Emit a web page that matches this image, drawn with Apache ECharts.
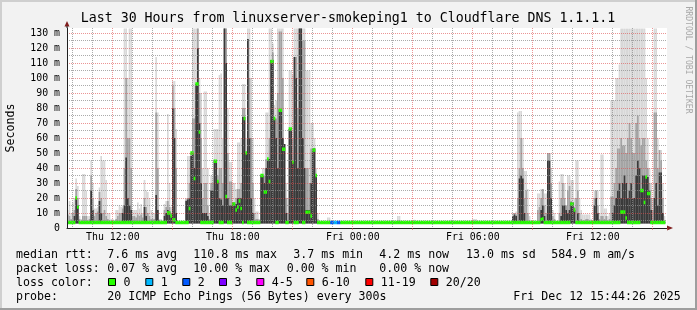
<!DOCTYPE html>
<html><head><meta charset="utf-8">
<script src="https://cdn.jsdelivr.net/npm/echarts@6/dist/echarts.min.js"></script>
<style>html,body{margin:0;padding:0;background:#f2f2f2}#c{width:697px;height:310px}</style>
</head><body><div id="c"></div>
<script>
// ---- time axis: 360 steps of 5 minutes, Thu 09:45 -> Fri 15:45
const days = ['Thu', 'Fri'];
const startMinute = 9 * 60 + 45;
const stepMinutes = 5;
const stepCount = 360;
const tickLabels = ['Thu 12:00', 'Thu 18:00', 'Fri 00:00', 'Fri 06:00', 'Fri 12:00'];
const yTickLabels = ['0', '10 m', '20 m', '30 m', '40 m', '50 m', '60 m', '70 m', '80 m', '90 m', '100 m', '110 m', '120 m', '130 m'];
const pingFloor = 3; // fastest ping (ms): the smoke starts here

// ---- smoke: highest ping (light), upper band (mid), inner band (dark), in ms
const smokeTop = [
12,18,10,17,20,33,28,8,6,36,36,25,8,8,45,30,13,13,14,27,
48,45,45,32,10,10,6,6,5,12,12,15,14,15,133,133,100,133,133,12,
12,12,17,13,16,10,32,25,24,20,12,10,10,114,77,6,6,5,16,18,
76,30,14,98,98,66,4,4,4,4,4,20,48,48,50,133,133,133,133,100,
90,40,91,91,40,10,35,35,66,66,66,102,103,60,133,133,80,44,44,30,
30,26,57,57,60,96,96,60,133,133,100,60,20,11,11,6,35,40,40,77,
77,133,133,123,82,85,133,133,133,133,56,30,20,105,105,102,133,133,133,133,
133,133,133,105,105,105,70,70,60,40,10,4,4,4,4,4,7,7,4,4,
4,4,4,4,4,4,4,4,4,4,4,4,4,4,4,4,4,4,4,4,
4,4,4,4,4,4,4,4,4,4,4,4,4,4,4,4,4,4,8,8,
4,4,4,4,4,4,4,4,5.5,4,4,4,4,4,4,4,4,4,4,4,
4,4,4,4,4,4,4,4,4,4,5.5,4,4,4,4,4,4,4,4,4,
4,4,4,6,6,6,4,4,4,4,4,4,4,4,4,4,4,4,4,4,
4,4,4,4,4,4,4,10,10,11,77,78,78,60,38,38,26,8,4,4,
4,4,23,23,26,26,23,23,50,50,40,12,10,4,4,31,36,36,30,15,
35,35,32,32,20,45,45,20,12,9,9,9,9,9,6,5,25,25,25,10,
49,49,13,13,8,10,85,85,85,100,100,109,133,133,133,133,133,133,133,133,
133,133,133,133,133,133,133,100,60,40,30,20,133,133,60,52,52,30,8,null
];
const smokeMid = [
9,8,6,10,12,26,20,6,4,8,8,8,5,6,35,20,8,10,11,24,
20,10,12,8,6,5,4,4,4,6,8,10,10,13,40,100,60,60,40,8,
8,7,9,8,9,7,20,14,10,8,6,6,6,77,40,5,4,4,12,14,
18,14,10,95,80,40,4,4,4,4,4,19,20,30,50,73,73,96,133,90,
60,20,30,30,15,6,30,30,45,45,35,40,40,30,133,133,50,31,31,17,
17,20,26,26,30,80,80,50,126,100,60,30,10,6,6,4,35,35,35,46,
46,60,112,117,73,73,90,131,131,100,56,20,10,66,66,60,114,114,80,133,
133,125,125,40,40,30,53,53,53,35,6,4,4,4,4,4,4,4,4,4,
4,4,4,4,4,4,4,4,4,4,4,4,4,4,4,4,4,4,4,4,
4,4,4,4,4,4,4,4,4,4,4,4,4,4,4,4,4,4,5,5,
4,4,4,4,4,4,4,4,4,4,4,4,4,4,4,4,4,4,4,4,
4,4,4,4,4,4,4,4,4,4,4,4,4,4,4,4,4,4,4,4,
4,4,4,4,4,4,4,4,4,4,4,4,4,4,4,4,4,4,4,4,
4,4,4,4,4,4,4,8,10,9,20,40,60,40,20,25,10,5,4,4,
4,4,12,14,20,26,15,10,50,50,30,8,6,4,4,10,20,30,20,15,
25,28,18,17,14,20,25,10,6,5,5,6,6,5,5,4,20,25,15,6,
8,8,6,8,5,6,21,21,30,40,53,53,60,55,55,50,60,70,60,50,
50,70,75,60,55,60,60,45,40,30,20,12,77,77,40,52,45,20,5,null
];
const smokeDark = [
4,4,4,4,8,20,15,4,4,4,4,4,4,4,25,12,4,4,4,18,
10,4,4,4,4,4,4,4,4,4,4,4,4,10,15,47,20,15,12,4,
4,4,4,4,4,4,14,8,4,4,4,4,4,22,12,4,4,4,8,10,
12,11,8,80,60,10,4,4,4,4,4,18,19,20,48,50,40,96,120,70,
30,10,10,10,8,4,25,25,45,45,31,20,19,15,133,110,20,15,15,17,
16,16,20,20,20,74,74,50,126,60,20,10,4,4,4,4,35,35,30,40,
46,46,112,112,73,60,40,79,79,60,56,10,4,66,66,44,114,100,40,133,
133,60,40,12,12,12,30,53,53,35,4,4,4,4,4,4,4,4,4,4,
4,4,4,4,4,4,4,4,4,4,4,4,4,4,4,4,4,4,4,4,
4,4,4,4,4,4,4,4,4,4,4,4,4,4,4,4,4,4,4,4,
4,4,4,4,4,4,4,4,4,4,4,4,4,4,4,4,4,4,4,4,
4,4,4,4,4,4,4,4,4,4,4,4,4,4,4,4,4,4,4,4,
4,4,4,4,4,4,4,4,4,4,4,4,4,4,4,4,4,4,4,4,
4,4,4,4,4,4,4,8,9,8,4,33,35,33,10,4,4,4,4,4,
4,4,4,4,12,15,8,4,45,45,20,4,4,4,4,4,8,15,15,12,
10,12,17,17,12,4,10,4,4,4,4,4,4,4,4,4,15,20,10,4,
4,4,4,4,4,4,4,10,15,20,25,30,20,30,35,30,20,25,30,20,
20,35,45,40,25,35,35,34,34,25,12,4,20,30,15,37,37,10,4,null
];
// ---- median rtt (ms)
const medianRtt = [
3.7,3.7,3.7,3.7,3.7,20,14,3.7,3.7,3.7,3.7,3.7,3.7,3.7,3.7,3.7,3.7,3.7,3.7,3.7,
3.7,3.7,3.7,3.7,3.7,3.7,3.7,3.7,3.7,3.7,3.7,3.7,3.7,3.7,3.7,3.7,3.7,3.7,3.7,3.7,
3.7,3.7,3.7,3.7,3.7,3.7,3.7,3.7,3.7,3.7,3.7,3.7,3.7,3.7,3.7,3.7,3.7,3.7,3.7,3.7,
10,10,8,5.5,5.5,3.7,3.7,3.7,3.7,3.7,3.7,3.7,3.7,13,50,50,33,96,96,64,
3.7,3.7,3.7,3.7,3.7,3.7,3.7,3.7,44.5,44.5,31,3.7,3.7,3.7,140,21,3.7,3.7,3.7,16,
16,12,14,18,13,3.7,73,50,3.7,3.7,3.7,3.7,3.7,3.7,3.7,3.7,35,35,24,24,
46,31,111,111,73,3.7,3.7,78.5,78.5,52.5,52.5,3.7,3.7,66,66,44,3.7,3.7,3.7,140,
140,3.7,3.7,10.5,10.5,10.5,8,52,52,35,3.7,3.7,3.7,3.7,3.7,3.7,3.7,3.7,3.7,3.7,
3.7,3.7,3.7,3.7,3.7,3.7,3.7,3.7,3.7,3.7,3.7,3.7,3.7,3.7,3.7,3.7,3.7,3.7,3.7,3.7,
3.7,3.7,3.7,3.7,3.7,3.7,3.7,3.7,3.7,3.7,3.7,3.7,3.7,3.7,3.7,3.7,3.7,3.7,3.7,3.7,
3.7,3.7,3.7,3.7,3.7,3.7,3.7,3.7,3.7,3.7,3.7,3.7,3.7,3.7,3.7,3.7,3.7,3.7,3.7,3.7,
3.7,3.7,3.7,3.7,3.7,3.7,3.7,3.7,3.7,3.7,3.7,3.7,3.7,3.7,3.7,3.7,3.7,3.7,3.7,3.7,
3.7,3.7,3.7,3.7,3.7,3.7,3.7,3.7,3.7,3.7,3.7,3.7,3.7,3.7,3.7,3.7,3.7,3.7,3.7,3.7,
3.7,3.7,3.7,3.7,3.7,3.7,3.7,3.7,3.7,3.7,3.7,3.7,3.7,3.7,3.7,3.7,3.7,3.7,3.7,3.7,
3.7,3.7,3.7,3.7,5.7,6,3.7,3.7,3.7,3.7,3.7,3.7,3.7,3.7,3.7,3.7,3.7,3.7,3.7,3.7,
3.7,3.7,16,16,12,3.7,3.7,3.7,3.7,3.7,3.7,3.7,3.7,3.7,3.7,3.7,3.7,3.7,3.7,3.7,
3.7,3.7,3.7,3.7,3.7,3.7,3.7,3.7,3.7,3.7,3.7,3.7,10.6,10.6,10.6,6.7,3.7,3.7,3.7,3.7,
3.7,3.7,3.7,3.7,25,25,17,34,23,23,3.7,3.7,3.7,3.7,3.7,3.7,3.7,3.7,3.7,null
];
// ---- lost pings out of 20 per step
const lostPings = [
0,0,0,0,0,0,0,0,0,0,0,0,0,0,0,0,0,0,0,0,
0,0,0,0,0,0,0,0,0,0,0,0,0,0,0,0,0,0,0,0,
0,0,0,0,0,0,0,0,0,0,0,0,0,0,0,0,0,0,0,0,
0,0,0,0,0,0,0,0,0,0,0,0,0,0,0,0,0,0,0,0,
0,0,0,0,0,0,0,0,0,0,0,0,0,0,0,0,0,0,0,0,
0,0,0,0,0,0,0,0,0,0,0,0,0,0,0,0,0,0,0,0,
0,0,0,0,0,0,0,0,0,0,0,0,0,0,0,0,0,0,0,0,
0,0,0,0,0,0,0,0,0,0,0,0,0,0,0,0,0,0,2,2,
1,1,2,2,0,0,0,0,0,0,0,0,0,0,0,0,0,0,0,0,
0,0,0,0,0,0,0,0,0,0,0,0,0,0,0,0,0,0,0,0,
0,0,0,0,0,0,0,0,0,0,0,0,0,0,0,0,0,0,0,0,
0,0,0,0,0,0,0,0,0,0,0,0,0,0,0,0,0,0,0,0,
0,0,0,0,0,0,0,0,0,0,0,0,0,0,0,0,0,0,0,0,
0,0,0,0,0,0,0,0,0,0,0,0,0,0,0,0,0,0,0,0,
0,0,0,0,0,0,0,0,0,0,0,0,0,0,0,0,0,0,0,0,
0,0,0,0,0,0,0,0,0,0,0,0,0,0,0,0,0,0,0,0,
0,0,0,0,0,0,0,0,0,0,0,0,0,0,0,0,0,0,0,0,
0,0,0,0,0,0,0,0,0,0,0,0,0,0,0,0,0,0,0,0
];

const lossColors = ['#26ff00', '#00b8ff', '#0059ff', '#7e00ff', '#ff00ff', '#ff5500', '#ff0000', '#a10000'];
const lossLabels = ['0', '1', '2', '3', '4-5', '6-10', '11-19', '20/20'];
const titleText = 'Last 30 Hours from linuxserver-smokeping1 to Cloudflare DNS 1.1.1.1';
const rttStats = ['median rtt:', '7.6 ms avg', '110.8 ms max', '3.7 ms min', '4.2 ms now', '13.0 ms sd', '584.9 m am/s'];
const lossStats = ['packet loss:', '0.07 % avg', '10.00 % max', '0.00 % min', '0.00 % now'];
const probeText = ['probe:', '20 ICMP Echo Pings (56 Bytes) every 300s', 'Fri Dec 12 15:44:26 2025'];

// ---- build
const categories = [];
for (let i = 0; i < stepCount; i++) {
  const m = startMinute + i * stepMinutes;
  const mm = m % 1440;
  categories.push(days[Math.floor(m / 1440)] + ' ' + String(Math.floor(mm / 60)).padStart(2, '0') + ':' + String(mm % 60).padStart(2, '0'));
}
function lossColor(n) {
  if (n <= 3) return lossColors[n];
  if (n <= 5) return lossColors[4];
  if (n <= 10) return lossColors[5];
  if (n <= 19) return lossColors[6];
  return lossColors[7];
}
const medHalf = 1.2;
const medBase = medianRtt.map(v => v == null ? null : v - medHalf);
const medBand = medianRtt.map((v, i) => v == null ? null : { value: 2 * medHalf, itemStyle: { color: lossColor(lostPings[i]) } });

const mono = '"DejaVu Sans Mono", monospace';
const GRID = 'rgba(143,143,143,0.75)';
const MGRID = 'rgba(222,79,79,0.6)';
const isHour = (idx, val) => val.endsWith(':00');
const is3Hour = (idx, val) => val.endsWith(':00') && (parseInt(val.slice(4, 6), 10) % 3 === 0);

const graphic = [];
graphic.push({ type: 'rect', shape: { x: 0, y: 0, width: 697, height: 2 }, style: { fill: '#cfcfcf' }, silent: true });
graphic.push({ type: 'rect', shape: { x: 0, y: 0, width: 2, height: 310 }, style: { fill: '#cfcfcf' }, silent: true });
graphic.push({ type: 'rect', shape: { x: 0, y: 308, width: 697, height: 2 }, style: { fill: '#9e9e9e' }, silent: true });
graphic.push({ type: 'rect', shape: { x: 695, y: 0, width: 2, height: 310 }, style: { fill: '#9e9e9e' }, silent: true });
function txt(x, y, s, size, extra) {
  graphic.push(Object.assign({ type: 'text', x: x, y: y, silent: true,
    style: Object.assign({ text: s, font: size + 'px ' + mono, fill: '#000', verticalAlign: 'middle', align: 'left' }, (extra && extra.style) || {}) },
    extra && extra.rotation != null ? { rotation: extra.rotation } : {}));
}
txt(348, 19, titleText, 13.25, { style: { align: 'center' } });
txt(11, 128, 'Seconds', 11.6, { rotation: Math.PI / 2, style: { align: 'center' } });
txt(688, 60, 'RRDTOOL / TOBI OETIKER', 8.1, { rotation: -Math.PI / 2, style: { align: 'center', fill: '#a8a8a8' } });
graphic.push({ type: 'polygon', shape: { points: [[64.5, 26.5], [67, 21], [69.5, 26.5]] }, style: { fill: '#801f1f' }, silent: true });
graphic.push({ type: 'line', shape: { x1: 67, y1: 26, x2: 67, y2: 28 }, style: { stroke: '#1f1f1f', lineWidth: 1 }, silent: true });
graphic.push({ type: 'polygon', shape: { points: [[667, 225.5], [673, 228], [667, 230.5]] }, style: { fill: '#801f1f' }, silent: true });
const fs = 11.6;
const rttX = [16, 107.3, 193.3, 293.3, 379.3, 466, 551.3];
rttStats.forEach((s, k) => txt(rttX[k], 254.5, s, fs));
const lossX = [16, 107.3, 193.3, 286.7, 379.3];
lossStats.forEach((s, k) => txt(lossX[k], 268.5, s, fs));
txt(16, 282.5, 'loss color:', fs);
const boxX = [108.5, 145.8, 182.8, 219.5, 256.8, 306.8, 365.8, 430.8];
lossLabels.forEach((s, k) => {
  graphic.push({ type: 'rect', shape: { x: boxX[k], y: 278.5, width: 7, height: 7 }, style: { fill: lossColors[k], stroke: '#000', lineWidth: 1 }, silent: true });
  txt(boxX[k] + 15, 282.5, s, fs);
});
const probeX = [16, 107.3, 513.3];
probeText.forEach((s, k) => txt(probeX[k], 296.5, s, fs));

const barCommon = { type: 'bar', barGap: '-100%', barCategoryGap: '0%', silent: true, animation: false };
// each smoke band is a stack: transparent floor + band from the fastest ping up to its value
function smokeLayer(name, values, color) {
  return [
    Object.assign({ name: name + 'Floor', stack: name, data: values.map(v => v == null ? null : pingFloor), itemStyle: { color: 'rgba(0,0,0,0)' } }, barCommon),
    Object.assign({ name: name, stack: name, data: values.map(v => v == null ? null : Math.max(0, v - pingFloor)), itemStyle: { color: color } }, barCommon)
  ];
}
const option = {
  backgroundColor: '#f2f2f2',
  animation: false,
  grid: { left: 67, top: 28, width: 600, height: 200, show: true, backgroundColor: '#ffffff', borderWidth: 0, containLabel: false, outerBoundsMode: 'none' },
  xAxis: {
    type: 'category', data: categories, boundaryGap: true, z: 5,
    axisLine: { show: true, lineStyle: { color: '#1f1f1f', width: 1 } },
    axisTick: { show: true, interval: is3Hour, length: 2, lineStyle: { color: MGRID } },
    axisLabel: { interval: (idx, val) => tickLabels.includes(val), fontFamily: mono, fontSize: 9.9, color: '#000', margin: 4 },
    splitLine: { show: true, interval: isHour, showMaxLine: false, lineStyle: { color: [GRID, GRID, MGRID], width: 1, type: [1, 1] } }
  },
  yAxis: {
    type: 'value', min: 0, max: 133.33, interval: 5, z: 5,
    axisLine: { show: true, lineStyle: { color: '#1f1f1f', width: 1 } },
    axisTick: { show: false },
    axisLabel: {
      formatter: v => { const k = Math.round(v / 10); return Math.abs(v - k * 10) < 1e-6 && yTickLabels[k] != null ? yTickLabels[k] : ''; },
      fontFamily: mono, fontSize: 9.9, color: '#000', margin: 7
    },
    splitLine: { show: true, showMaxLine: false, lineStyle: { color: [MGRID, GRID], width: 1, type: [1, 1] } }
  },
  series: [].concat(
    smokeLayer('max', smokeTop, '#d8d8d8'),
    smokeLayer('upper', smokeMid, '#a4a4a4'),
    smokeLayer('inner', smokeDark, '#3a3a3a'),
    [
      Object.assign({ name: 'medBase', stack: 'med', data: medBase, itemStyle: { color: 'rgba(0,0,0,0)' } }, barCommon),
      Object.assign({ name: 'median', stack: 'med', data: medBand }, barCommon)
    ]
  ),
  graphic: graphic
};
const chart = echarts.init(document.getElementById('c'), null, { renderer: 'canvas' });
chart.setOption(option);
</script></body></html>
